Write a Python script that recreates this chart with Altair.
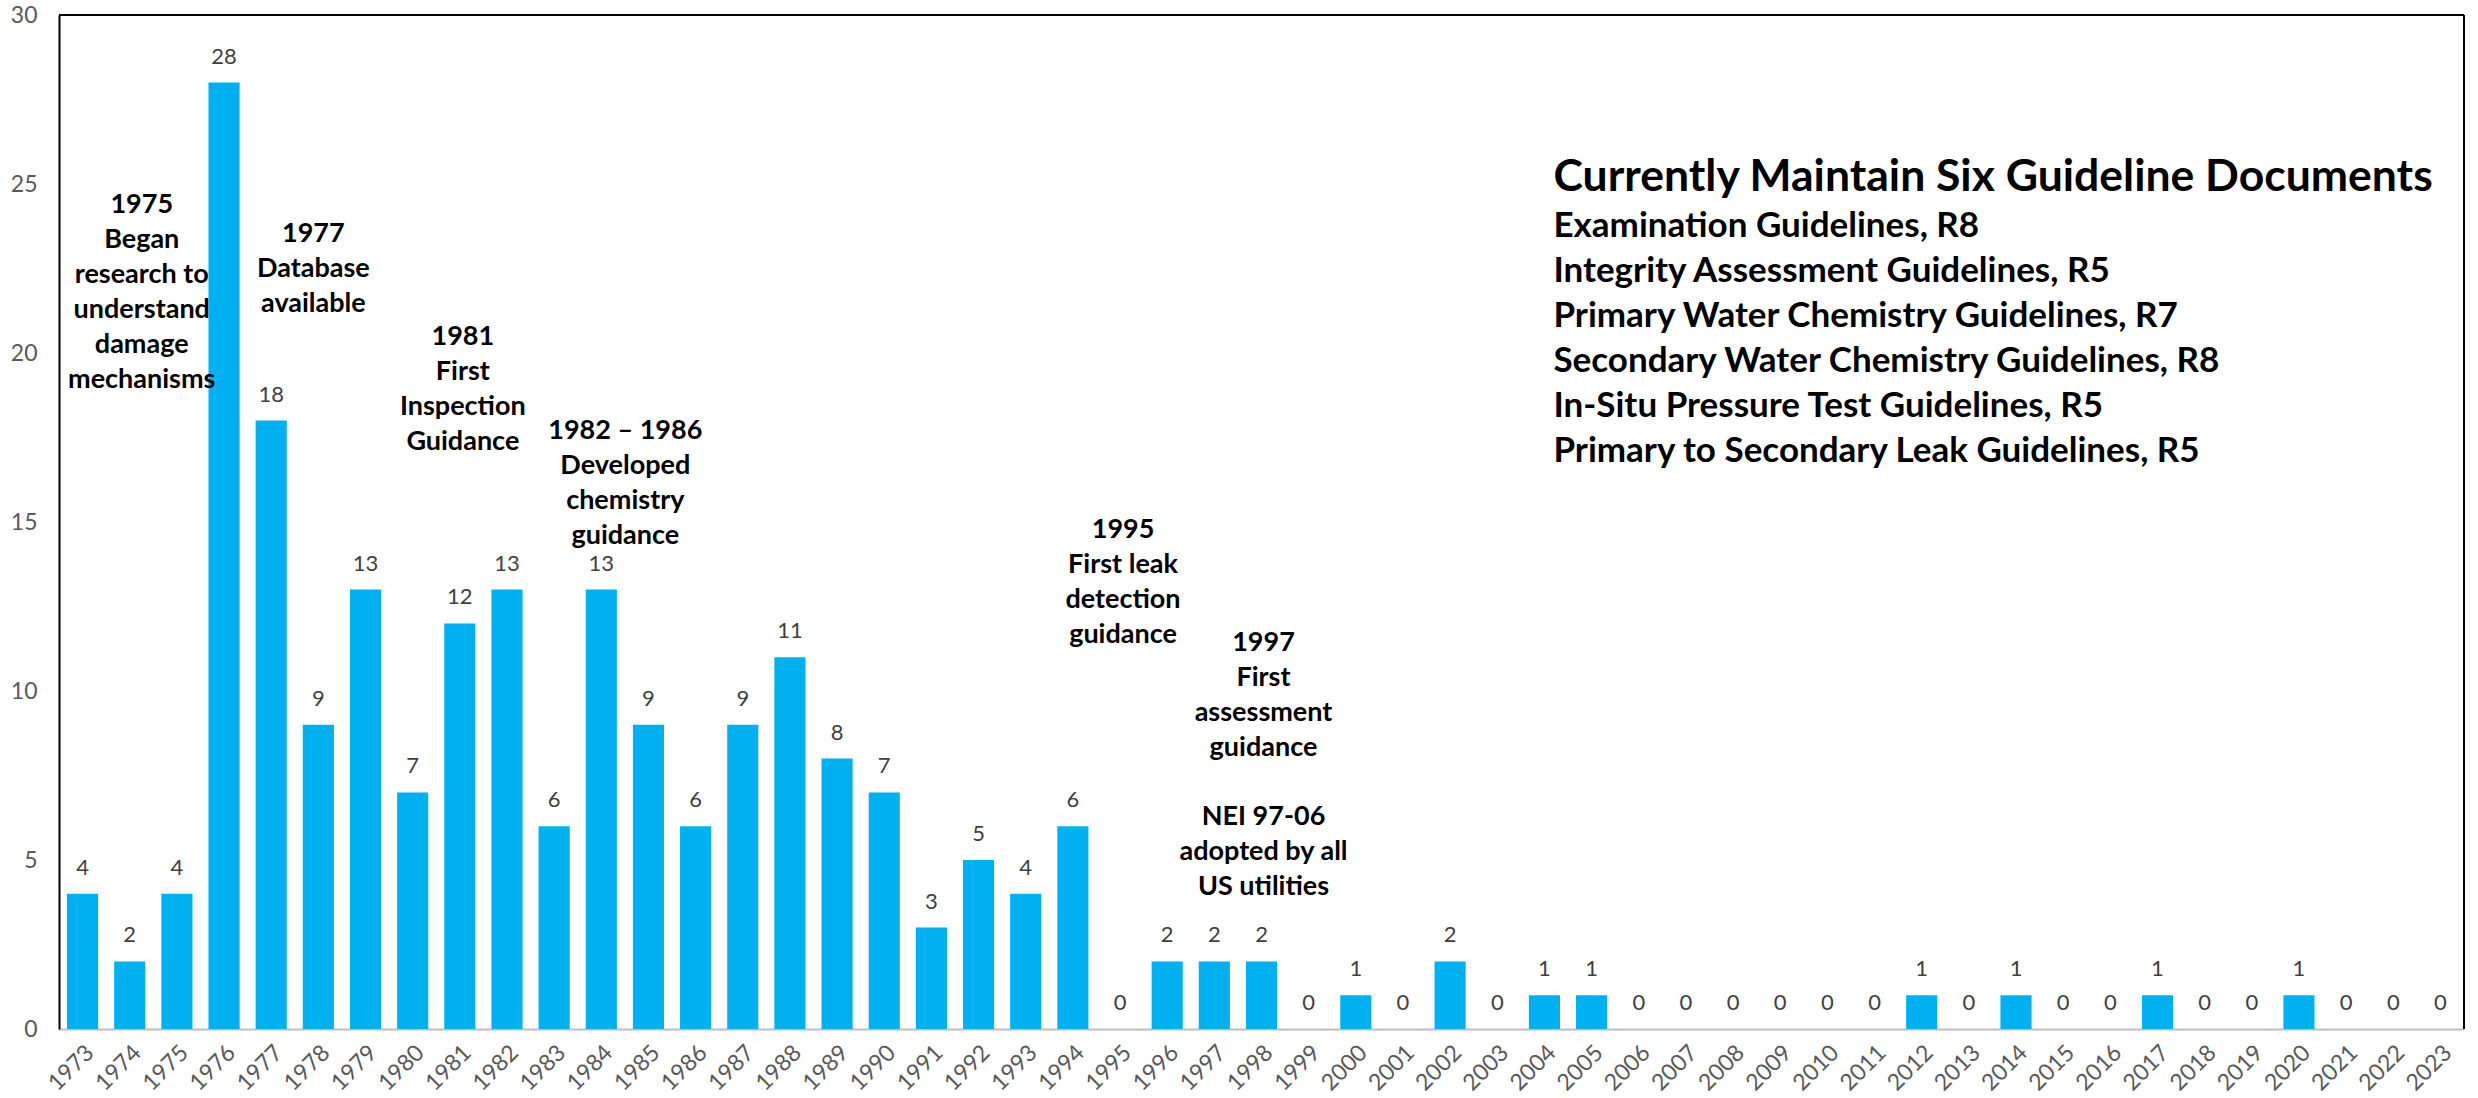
import altair as alt
import pandas as pd

years = ["1973", "1974", "1975", "1976", "1977", "1978", "1979", "1980", "1981", "1982",
         "1983", "1984", "1985", "1986", "1987", "1988", "1989", "1990", "1991", "1992",
         "1993", "1994", "1995", "1996", "1997", "1998", "1999", "2000", "2001", "2002",
         "2003", "2004", "2005", "2006", "2007", "2008", "2009", "2010", "2011", "2012",
         "2013", "2014", "2015", "2016", "2017", "2018", "2019", "2020", "2021", "2022",
         "2023"]
counts = [4, 2, 4, 28, 18, 9, 13, 7, 12, 13,
          6, 13, 9, 6, 9, 11, 8, 7, 3, 5,
          4, 6, 0, 2, 2, 2, 0, 1, 0, 2,
          0, 1, 1, 0, 0, 0, 0, 0, 0, 1,
          0, 1, 0, 0, 1, 0, 0, 1, 0, 0,
          0]

ann_texts = [
    ["1975", "Began", "research to", "understand", "damage", "mechanisms"],
    ["1977", "Database", "available"],
    ["1981", "First", "Inspection", "Guidance"],
    ["1982 \u2013 1986", "Developed", "chemistry", "guidance"],
    ["1995", "First leak", "detection", "guidance"],
    ["1997", "First", "assessment", "guidance"],
    ["NEI 97-06", "adopted by all", "US utilities"],
]
ann_anchor = ["1974", "1978", "1981", "1984", "1995", "1998", "1998"]
ann_dx = [12, -5, 3, 24, 3, 2, 2]
ann_y = [24.44, 23.58, 20.53, 17.75, 14.82, 11.48, 6.33]

box_title = "Currently Maintain Six Guideline Documents"
box_lines = [
    "Examination Guidelines, R8",
    "Integrity Assessment Guidelines, R5",
    "Primary Water Chemistry Guidelines, R7",
    "Secondary Water Chemistry Guidelines, R8",
    "In-Situ Pressure Test Guidelines, R5",
    "Primary to Secondary Leak Guidelines, R5",
]
box_anchor = "2004"
box_title_y = 25.27
box_lines_y = 23.79

y_ticks = [0, 5, 10, 15, 20, 25, 30]

W, H = 2405, 1014
FONT = "Lato"

df = pd.DataFrame({"year": years, "count": counts})
one = pd.DataFrame({"k": [0]})

x_enc = alt.X(
    "year:O",
    scale=alt.Scale(domain=years, paddingInner=0.34, paddingOuter=0.17),
    axis=alt.Axis(
        title=None, labelAngle=-45, labelColor="#595959", labelFont=FONT,
        labelFontSize=23, ticks=False, domainColor="#BFBFBF", domainWidth=2,
        labelPadding=12,
    ),
)
y_enc = alt.Y(
    "count:Q",
    scale=alt.Scale(domain=[0, 30], nice=False, zero=True),
    axis=alt.Axis(
        title=None, values=y_ticks, ticks=False, grid=False, domainColor="black",
        domainWidth=2, labelColor="#595959", labelFont=FONT, labelFontSize=23,
        labelPadding=22,
    ),
)

bars = alt.Chart(df).mark_bar(color="#00B0F0").encode(x=x_enc, y=y_enc)

values = alt.Chart(df).mark_text(
    baseline="middle", dy=-26, color="#404040", font=FONT, fontSize=22
).encode(x=alt.X("year:O"), y=alt.Y("count:Q"), text=alt.Text("count:Q"))

top_rule = alt.Chart(one).mark_rule(color="black", strokeWidth=2).encode(
    x=alt.value(0), x2=alt.value(W), y=alt.value(0)
)
right_rule = alt.Chart(one).mark_rule(color="black", strokeWidth=2).encode(
    x=alt.value(W), y=alt.value(0), y2=alt.value(H)
)

layers = [bars, top_rule, right_rule, values]

for lines, anchor, dx, yv in zip(ann_texts, ann_anchor, ann_dx, ann_y):
    layers.append(
        alt.Chart(one).mark_text(
            text=lines, lineHeight=35, align="center", baseline="alphabetic",
            dx=dx, dy=10, font=FONT, fontWeight="bold", fontSize=27, color="black",
        ).encode(x=alt.datum(anchor, type="ordinal"), y=alt.datum(yv))
    )

layers.append(
    alt.Chart(one).mark_text(
        text=box_title, align="left", baseline="alphabetic", dx=9, dy=16,
        font=FONT, fontWeight="bold", fontSize=44.5, color="black",
    ).encode(x=alt.datum(box_anchor, type="ordinal"), y=alt.datum(box_title_y))
)
layers.append(
    alt.Chart(one).mark_text(
        text=box_lines, lineHeight=45, align="left", baseline="alphabetic", dx=9, dy=12.5,
        font=FONT, fontWeight="bold", fontSize=35, color="black",
    ).encode(x=alt.datum(box_anchor, type="ordinal"), y=alt.datum(box_lines_y))
)

chart = alt.layer(*layers).properties(
    width=W, height=H,
    autosize=alt.AutoSizeParams(type="none"),
    padding={"left": 59, "top": 15, "right": 14, "bottom": 69},
    background="white",
).configure_view(stroke=None)

chart.save("out.html", embed_options={"renderer": "svg", "actions": False})
